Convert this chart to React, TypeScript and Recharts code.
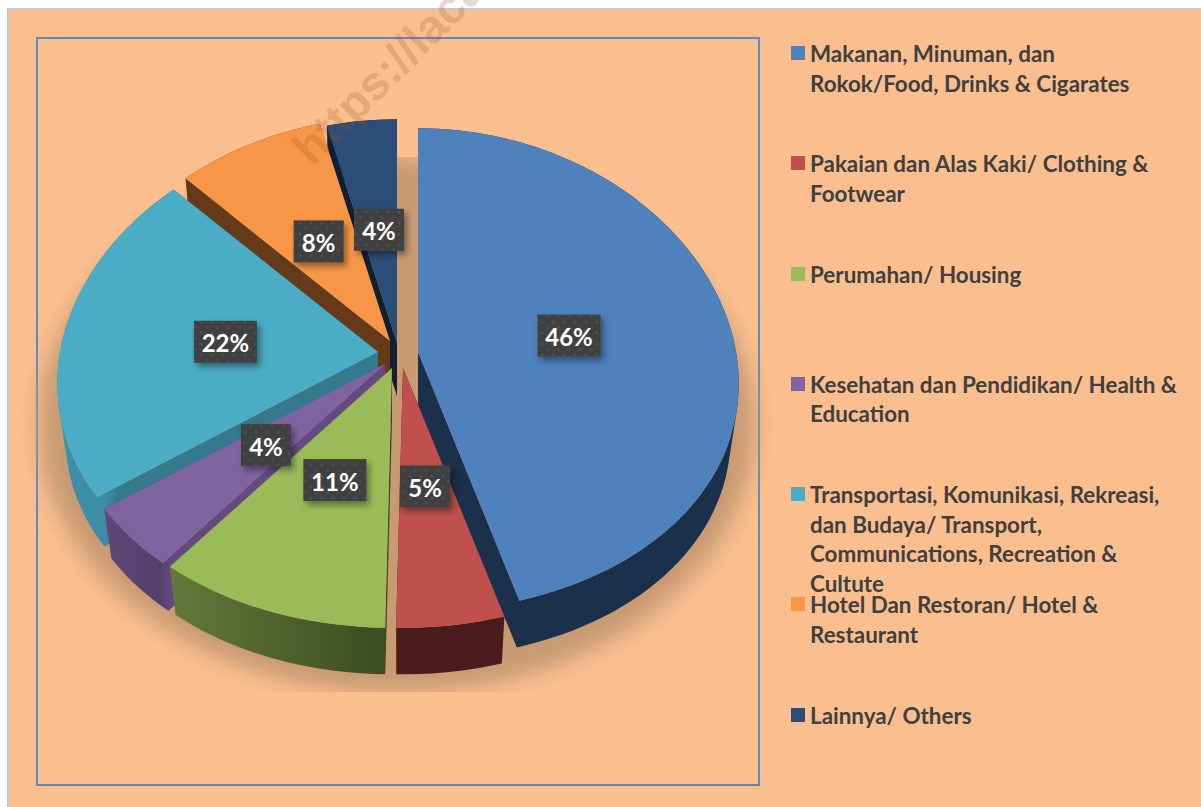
import React from "react";
import { PieChart, Pie, Legend } from "recharts";

const categories = [
  "Makanan, Minuman, dan\nRokok/Food, Drinks & Cigarates",
  "Pakaian dan Alas Kaki/ Clothing &\nFootwear",
  "Perumahan/ Housing",
  "Kesehatan dan Pendidikan/ Health &\nEducation",
  "Transportasi, Komunikasi, Rekreasi,\ndan Budaya/ Transport,\nCommunications, Recreation &\nCultute",
  "Hotel Dan Restoran/ Hotel &\nRestaurant",
  "Lainnya/ Others",
];
const shares = [45.5, 4.8, 10.5, 4.4, 22.4, 8.4, 4.0];

const topColors = ["#4f81bd", "#c0504d", "#9bbb59", "#8064a2", "#4bacc6", "#f79646", "#2c4d75"];
const wallColors = ["#1b304a", "#4c1b1b", "url(#greenWall)", "url(#purpleWall)", "url(#tealWall)", "#653a18", "#111f33"];
// how far each slice is pulled away from the pie centre, in px
const explodeX = [21, 6, -5, -12, -19, -7, 0];
const explodeY = [-6, 10, 10, 6, -6, -17, -15];

const chartData = categories.map((name, i) => ({ name, value: shares[i], fill: topColors[i] }));
// walls are painted back to front, so the same slices run the other way round
const wallData = [...chartData].reverse();

const W = 1201;
const H = 807;
const CX = 397;
const CY = 358;
const RADIUS = 318;
const TILT = 0.756;
const PERSPECTIVE_Y = 0.0745;
const PERSPECTIVE_X = 0.13;
const DEPTH = 53;
const BOTTOM_SCALE = 0.975;
const RAD = Math.PI / 180;

type Pt = [number, number];

function project(i: number, angle: number, r: number, cx: number, cy: number): Pt {
  const u = Math.cos(angle * RAD);
  const v = Math.sin(angle * RAD);
  return [
    cx + explodeX[i] + (r * u) / (1 + PERSPECTIVE_X * v),
    cy + explodeY[i] - (r * TILT * v) / (1 + PERSPECTIVE_Y * v),
  ];
}

function outline(i: number, p: any): Pt[] {
  const pts: Pt[] = [project(i, 0, 0, p.cx, p.cy)];
  const lo = Math.min(p.startAngle, p.endAngle);
  const hi = Math.max(p.startAngle, p.endAngle);
  const steps = Math.max(2, Math.ceil((hi - lo) / 2));
  for (let s = 0; s <= steps; s++) {
    pts.push(project(i, hi - ((hi - lo) * s) / steps, p.outerRadius, p.cx, p.cy));
  }
  return pts;
}

const toPath = (pts: Pt[]) => "M" + pts.map((q) => `${q[0].toFixed(1)},${q[1].toFixed(1)}`).join("L") + "Z";

function TopFace(props: any) {
  const i = categories.indexOf(props.name);
  return <path d={toPath(outline(i, props))} fill={topColors[i]} />;
}

function WallFace(props: any) {
  const i = categories.indexOf(props.name);
  const pts = outline(i, props);
  const apex = pts[0];
  const lower = (q: Pt): Pt => [
    apex[0] + (q[0] - apex[0]) * BOTTOM_SCALE,
    apex[1] + (q[1] - apex[1]) * BOTTOM_SCALE + DEPTH,
  ];
  let d = "";
  pts.forEach((a, k) => {
    const b = pts[(k + 1) % pts.length];
    const quad: Pt[] = [a, b, lower(b), lower(a)];
    // same winding for every quad so the union fills without holes
    let area = 0;
    quad.forEach((q, n) => {
      const r = quad[(n + 1) % 4];
      area += q[0] * r[1] - r[0] * q[1];
    });
    d += toPath(area < 0 ? [...quad].reverse() : quad);
  });
  return <path d={d} fill={wallColors[i]} fillRule="nonzero" />;
}

function GroundShadow(props: any) {
  return (
    <ellipse
      cx={props.cx}
      cy={props.cy + 67}
      rx={props.outerRadius + 40}
      ry={268}
      fill="#c89a72"
      filter="url(#groundBlur)"
    />
  );
}

function SliceLabel(props: any) {
  const i = categories.indexOf(props.name);
  const v = Math.sin(props.midAngle * RAD);
  const [x, y] = project(i, props.midAngle, RADIUS * (0.485 + 0.025 * v), CX, CY);
  const text = `${Math.round(shares[i])}%`;
  const w = text.length === 3 ? 63 : 50;
  const h = 42;
  return (
    <g>
      <rect x={x - w / 2} y={y - h / 2} width={w} height={h} fill="#404040" filter="url(#labelShadow)" />
      <rect x={x - w / 2} y={y - h / 2} width={w} height={h} fill="url(#labelDots)" />
      <text
        x={x}
        y={y + 1}
        textAnchor="middle"
        dominantBaseline="central"
        fill="#ffffff"
        fontFamily="Lato, sans-serif"
        fontWeight={700}
        fontSize={24}
      >
        {text}
      </text>
    </g>
  );
}

function LegendList() {
  return (
    <div style={{ fontFamily: "Lato, sans-serif", fontWeight: 700, fontSize: 22.4, lineHeight: "29.5px", color: "#404040" }}>
      {categories.map((name, i) => (
        <div key={name} style={{ position: "relative", height: 110.3, paddingLeft: 19, whiteSpace: "pre-line" }}>
          <span style={{ position: "absolute", left: 0, top: 7, width: 14, height: 14, background: topColors[i] }} />
          {name}
        </div>
      ))}
    </div>
  );
}

export default function App() {
  return (
    <div style={{ position: "absolute", left: 0, top: 0, width: W, height: H, background: "#ffffff", overflow: "hidden" }}>
      <div
        style={{
          position: "absolute",
          left: 7,
          top: 8,
          width: W,
          height: H,
          boxSizing: "border-box",
          background: "#fbbf8f",
          borderLeft: "2px solid #c9c9c9",
          borderTop: "2px solid #c9c9c9",
        }}
      />
      <div
        style={{
          position: "absolute",
          left: 36,
          top: 37,
          width: 724,
          height: 749,
          boxSizing: "border-box",
          border: "2px solid #5a8ac4",
        }}
      />
      <svg width={0} height={0} style={{ position: "absolute" }}>
        <defs>
          <filter id="groundBlur" filterUnits="userSpaceOnUse" x={0} y={157} width={W} height={535}>
            <feGaussianBlur stdDeviation={11} />
          </filter>
          <filter id="labelShadow" x="-30%" y="-30%" width="160%" height="170%">
            <feDropShadow dx={3} dy={4} stdDeviation={3} floodColor="#000000" floodOpacity={0.4} />
          </filter>
          <pattern id="labelDots" width={11} height={11} patternUnits="userSpaceOnUse">
            <circle cx={3} cy={3} r={1.6} fill="#4e4e4e" />
            <circle cx={8.5} cy={8.5} r={1.6} fill="#4a4a4a" />
          </pattern>
          <linearGradient id="greenWall" x1="0" y1="0" x2="1" y2="0">
            <stop offset="0%" stopColor="#64793a" />
            <stop offset="100%" stopColor="#3c4a20" />
          </linearGradient>
          <linearGradient id="purpleWall" x1="0" y1="0" x2="1" y2="0">
            <stop offset="0%" stopColor="#5f4779" />
            <stop offset="20%" stopColor="#54406c" />
            <stop offset="24%" stopColor="#654a80" />
            <stop offset="100%" stopColor="#654a80" />
          </linearGradient>
          <linearGradient id="tealWall" x1="0" y1="0" x2="1" y2="0">
            <stop offset="0%" stopColor="#3e90a9" />
            <stop offset="15%" stopColor="#3c8ca4" />
            <stop offset="19%" stopColor="#35798c" />
            <stop offset="100%" stopColor="#35798c" />
          </linearGradient>
        </defs>
      </svg>
      <div style={{ position: "absolute", left: 0, top: 0 }}>
        <PieChart width={W} height={H} margin={{ top: 0, right: 0, bottom: 0, left: 0 }}>
          <Pie
            data={[{ name: "shadow", value: 1 }]}
            dataKey="value"
            cx={CX}
            cy={CY}
            outerRadius={RADIUS}
            legendType="none"
            shape={GroundShadow}
            isAnimationActive={false}
          />
          <Pie
            data={wallData}
            dataKey="value"
            nameKey="name"
            cx={CX}
            cy={CY}
            outerRadius={RADIUS}
            startAngle={-270}
            endAngle={90}
            legendType="none"
            shape={WallFace}
            isAnimationActive={false}
          />
          <Pie
            data={chartData}
            dataKey="value"
            nameKey="name"
            cx={CX}
            cy={CY}
            outerRadius={RADIUS}
            startAngle={90}
            endAngle={-270}
            shape={TopFace}
            label={SliceLabel}
            labelLine={false}
            isAnimationActive={false}
          />
          <Legend content={LegendList} wrapperStyle={{ left: 791, top: 39, width: 410, bottom: "auto" }} />
        </PieChart>
      </div>
      <div
        style={{
          position: "absolute",
          left: 301,
          top: 131,
          transformOrigin: "0 50%",
          transform: "rotate(-45deg)",
          fontFamily: "Liberation Sans, sans-serif",
          fontWeight: 700,
          fontSize: 47,
          lineHeight: "50px",
          whiteSpace: "nowrap",
          color: "rgba(150, 85, 35, 0.24)",
        }}
      >
        https://lacak
      </div>
    </div>
  );
}
